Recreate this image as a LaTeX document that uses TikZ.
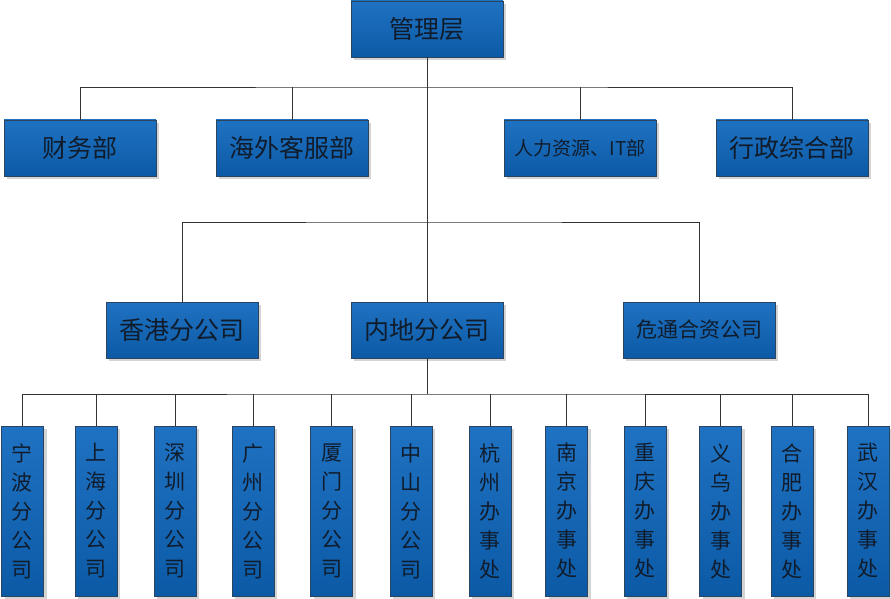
\documentclass[tikz,border=0pt]{standalone}
\usepackage{fontspec}
\setmainfont{Noto Sans CJK SC}
\usepackage{tikz}
\usetikzlibrary{positioning, shadows}
\usepackage{xcolor}
\definecolor{boxtop}{HTML}{1F72C2}
\definecolor{boxbot}{HTML}{0C5AA6}
\definecolor{boxline}{HTML}{2B4560}
\definecolor{boxtext}{HTML}{101C2C}

\begin{document}
\begin{tikzpicture}[
        x=1pt, y=-1pt,
        box/.style={
            rectangle,
            draw=boxline,
            line width=0.9pt,
            top color=boxtop,
            bottom color=boxbot,
            drop shadow={shadow xshift=3pt, shadow yshift=-3pt, fill=black!17, opacity=1},
            text=boxtext,
            minimum width=152pt,
            minimum height=56pt,
            inner sep=0pt,
            outer sep=0pt,
            font=\fontsize{25}{30}\selectfont
        },
        tallbox/.style={
            box,
            minimum width=42pt,
            minimum height=170pt,
            align=center,
            font=\fontsize{21}{29}\selectfont
        },
        link/.style={
            draw=black!80,
            line width=0.8pt
        }
    ]

        \useasboundingbox (0,0) rectangle (891,599);

        \node[box] (mgmt) at (427,29) {管理层};

        \node[box] (finance) at (80,148) {财务部};
        \node[box, right=60pt of finance] (overseas) {海外客服部};
        \node[box, right=136pt of overseas, font=\fontsize{19}{22}\selectfont] (hr) {人力资源、IT部};
        \node[box, right=60pt of hr] (admin) {行政综合部};

        \node[box, below=245pt of mgmt] (mainland) {内地分公司};
        \node[box, left=93pt of mainland] (hk) {香港分公司};
        \node[box, right=120pt of mainland, font=\fontsize{21}{25}\selectfont] (jv) {危通合资公司};

        \foreach \x/\txt [count=\i] in {
                22.5/宁\\波\\分\\公\\司,
                96/上\\海\\分\\公\\司,
                175/深\\圳\\分\\公\\司,
                253/广\\州\\分\\公\\司,
                331.5/厦\\门\\分\\公\\司,
                411/中\\山\\分\\公\\司,
                490/杭\\州\\办\\事\\处,
                566.5/南\\京\\办\\事\\处,
                645/重\\庆\\办\\事\\处,
                720.5/义\\乌\\办\\事\\处,
                792/合\\肥\\办\\事\\处,
                868/武\\汉\\办\\事\\处}
            \node[tallbox] (b\i) at (\x,511) {\txt};

        \coordinate (bus1) at (427,87);
        \coordinate (bus2) at (427,222);
        \coordinate (bus3) at (427,394);

        \draw[link] (mgmt) -- (mainland);
        \draw[link] (finance.north) |- (bus1) -| (admin.north);
        \draw[link] (overseas.north) -- (overseas.north |- bus1);
        \draw[link] (hr.north) -- (hr.north |- bus1);

        \draw[link] (hk.north) |- (bus2) -| (jv.north);

        \draw[link] (mainland) -- (bus3);
        \draw[link] (b1.north) |- (bus3) -| (b12.north);
        \foreach \i in {2,...,11}
            \draw[link] (b\i.north) -- (b\i.north |- bus3);

    \end{tikzpicture}
\end{document}
